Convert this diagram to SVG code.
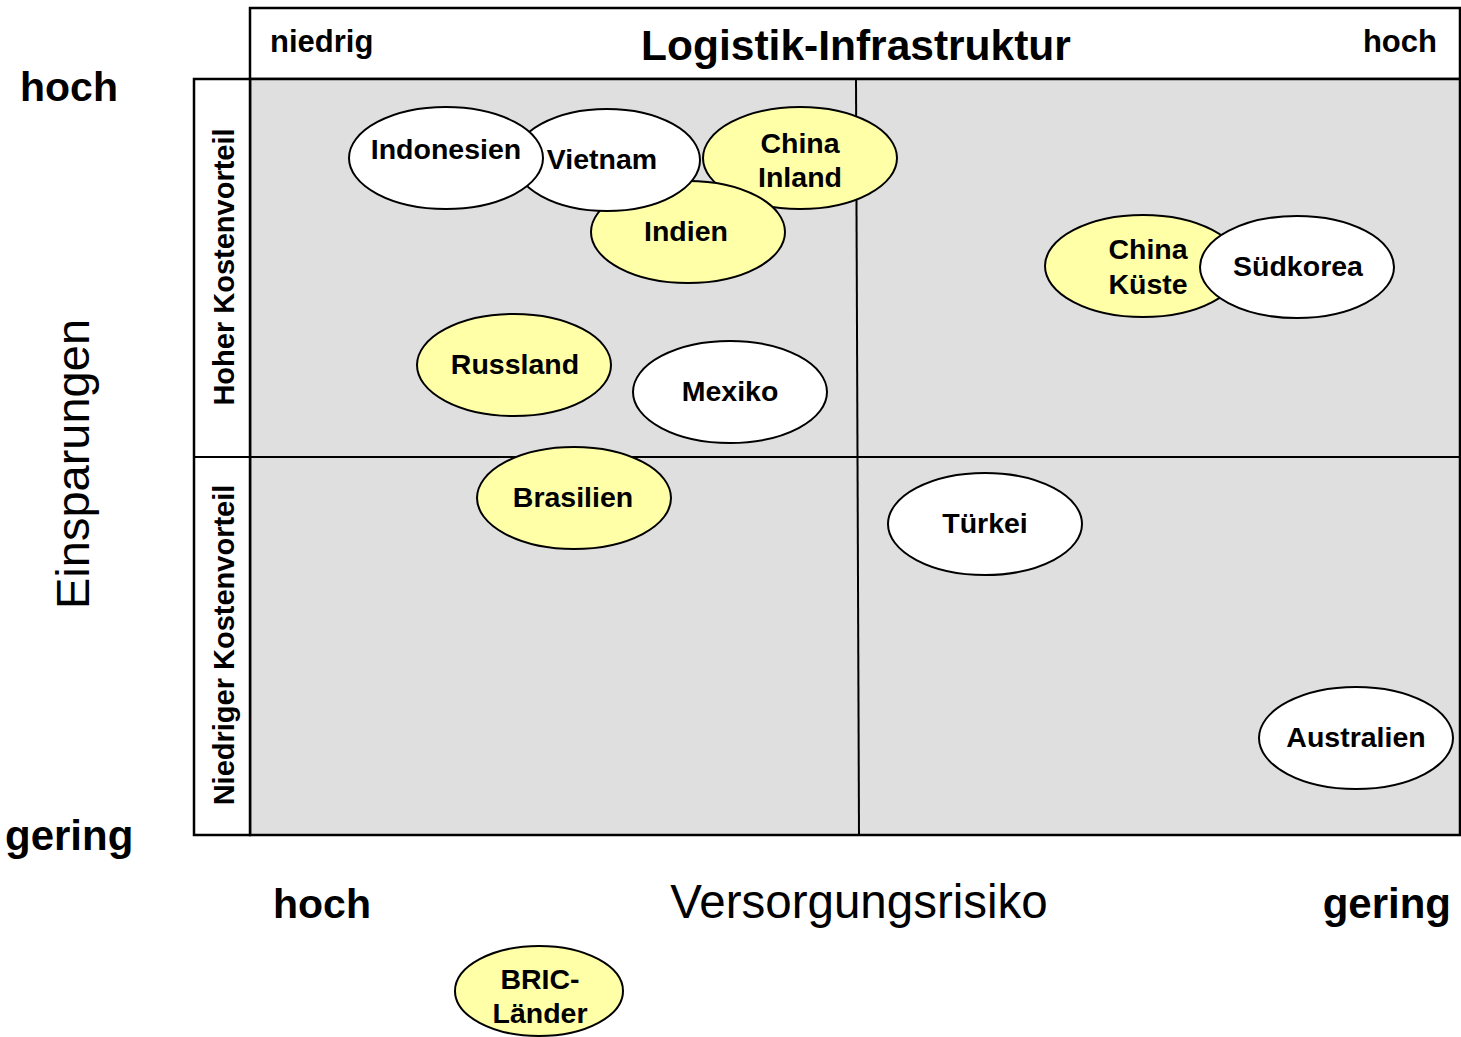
<svg xmlns="http://www.w3.org/2000/svg" width="1461" height="1037" viewBox="0 0 1461 1037">
<style>
text{font-family:"Liberation Sans",Arial,sans-serif;fill:#000}
.b{font-weight:bold}
.lbl{font-weight:bold;font-size:28.5px;text-anchor:middle}
.w{fill:#ffffff;stroke:#000;stroke-width:2}
.y{fill:#ffffa8;stroke:#000;stroke-width:2}
.frame{stroke:#000;stroke-width:2.5}
.wf{fill:#ffffff}
.gf{fill:#dfdfdf}
.ln{stroke:#000;stroke-width:2;fill:none}
</style>
<rect x="0" y="0" width="1461" height="1037" fill="#ffffff"/>
<g id="frame">
<rect x="250" y="8" width="1210" height="71" class="frame wf"/>
<rect x="250" y="79" width="1210" height="756" class="frame gf"/>
<rect x="194" y="79" width="56" height="756" class="frame wf"/>
</g>
<g id="connectors">
<line x1="856" y1="79" x2="859" y2="835" class="ln"/>
<line x1="194" y1="457" x2="1460" y2="457" class="ln"/>
</g>
<g id="axis-labels">
<text x="20" y="101" class="b" font-size="41">hoch</text>
<text x="5" y="850" class="b" font-size="42">gering</text>
<text transform="translate(89,464) rotate(-90)" font-size="47" text-anchor="middle">Einsparungen</text>
<text x="270" y="52" class="b" font-size="31">niedrig</text>
<text x="856" y="60" class="b" font-size="42.5" text-anchor="middle">Logistik-Infrastruktur</text>
<text x="1437" y="52" class="b" font-size="31" text-anchor="end">hoch</text>
<text transform="translate(234,267) rotate(-90)" class="b" font-size="29" text-anchor="middle">Hoher Kostenvorteil</text>
<text transform="translate(234,645) rotate(-90)" class="b" font-size="29" text-anchor="middle">Niedriger Kostenvorteil</text>
<text x="322" y="918" class="b" font-size="41" text-anchor="middle">hoch</text>
<text x="859" y="918" font-size="47.5" text-anchor="middle">Versorgungsrisiko</text>
<text x="1451" y="918" class="b" font-size="42" text-anchor="end">gering</text>
</g>
<g id="china-inland"><ellipse cx="800" cy="158" rx="97" ry="51" class="y"/><text x="800" y="153" class="lbl">China</text><text x="800" y="187" class="lbl">Inland</text></g>
<g id="indien"><ellipse cx="688" cy="232" rx="97" ry="51" class="y"/><text x="686" y="241" class="lbl">Indien</text></g>
<g id="vietnam"><ellipse cx="607" cy="160" rx="93" ry="51" class="w"/><text x="602" y="169" class="lbl">Vietnam</text></g>
<g id="indonesien"><ellipse cx="446" cy="158" rx="97" ry="51" class="w"/><text x="446" y="159" class="lbl">Indonesien</text></g>
<g id="china-kueste"><ellipse cx="1143" cy="266" rx="98" ry="51" class="y"/><text x="1148" y="259" class="lbl">China</text><text x="1148" y="294" class="lbl">Küste</text></g>
<g id="suedkorea"><ellipse cx="1297" cy="267" rx="97" ry="51" class="w"/><text x="1298" y="276" class="lbl">Südkorea</text></g>
<g id="russland"><ellipse cx="514" cy="365" rx="97" ry="51" class="y"/><text x="515" y="374" class="lbl">Russland</text></g>
<g id="mexiko"><ellipse cx="730" cy="392" rx="97" ry="51" class="w"/><text x="730" y="401" class="lbl">Mexiko</text></g>
<g id="brasilien"><ellipse cx="574" cy="498" rx="97" ry="51" class="y"/><text x="573" y="507" class="lbl">Brasilien</text></g>
<g id="tuerkei"><ellipse cx="985" cy="524" rx="97" ry="51" class="w"/><text x="985" y="533" class="lbl">Türkei</text></g>
<g id="australien"><ellipse cx="1356" cy="738" rx="97" ry="51" class="w"/><text x="1356" y="747" class="lbl">Australien</text></g>
<g id="bric"><ellipse cx="539" cy="991" rx="84" ry="45" class="y"/><text x="540" y="989" class="lbl">BRIC-</text><text x="540" y="1023" class="lbl">Länder</text></g>
</svg>
